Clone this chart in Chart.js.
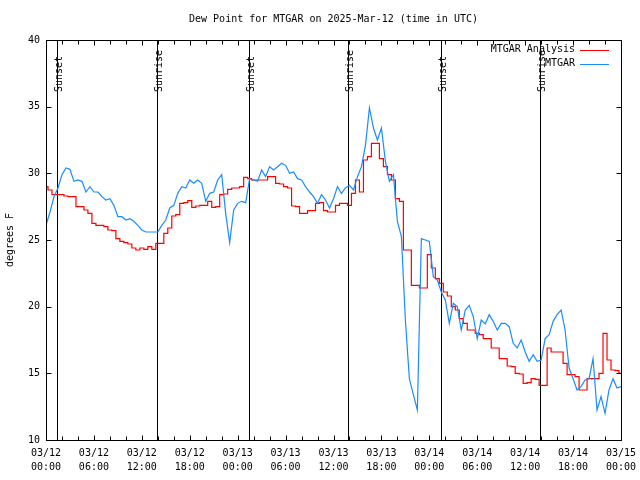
<!DOCTYPE html>
<html><head><meta charset="utf-8">
<script src="https://cdn.jsdelivr.net/npm/chart.js@4.4.1/dist/chart.umd.min.js"></script>
<style>html,body{margin:0;padding:0;background:#fff}</style>
</head><body>
<canvas id="c" width="640" height="480" style="width:640px;height:480px;display:block"></canvas>
<script>
// Hours since 03/12 00:00 UTC
const hours = [0,0.5,1,1.5,2,2.5,3,3.5,4,4.5,5,5.5,6,6.5,7,7.5,8,8.5,9,9.5,10,10.5,11,11.5,12,12.5,13,13.5,14,14.5,15,15.5,16,16.5,17,17.5,18,18.5,19,19.5,20,20.5,21,21.5,22,22.5,23,23.5,24,24.5,25,25.5,26,26.5,27,27.5,28,28.5,29,29.5,30,30.5,31,31.5,32,32.5,33,33.5,34,34.5,35,35.5,36,36.5,37,37.5,38,38.5,39,39.5,40,40.5,41,41.5,42,42.5,43,43.5,44,44.5,45,45.5,46,46.5,47,47.5,48,48.5,49,49.5,50,50.5,51,51.5,52,52.5,53,53.5,54,54.5,55,55.5,56,56.5,57,57.5,58,58.5,59,59.5,60,60.5,61,61.5,62,62.5,63,63.5,64,64.5,65,65.5,66,66.5,67,67.5,68,68.5,69,69.5,70,70.5,71,71.5,72];

const mtgar = [26.1,27.1,28.25,28.9,29.9,30.4,30.3,29.4,29.5,29.4,28.6,29.0,28.6,28.6,28.25,28.0,28.1,27.6,26.75,26.75,26.5,26.6,26.4,26.1,25.75,25.6,25.6,25.6,25.6,26.1,26.5,27.4,27.6,28.5,29.0,28.9,29.5,29.25,29.5,29.25,27.9,28.5,28.6,29.5,29.9,27.0,24.8,27.25,27.75,27.9,27.8,29.6,29.5,29.4,30.25,29.75,30.5,30.25,30.5,30.75,30.6,30.0,30.1,29.6,29.5,29.0,28.6,28.25,27.75,28.4,28.0,27.4,28.1,29.0,28.5,28.9,29.1,28.75,29.75,30.5,32.1,34.9,33.4,32.5,33.4,30.9,29.4,29.9,26.4,25.25,19.0,14.6,13.4,12.25,25.1,25.0,24.9,22.25,22.0,21.1,20.5,18.75,20.25,20.0,18.25,19.75,20.1,19.25,17.6,19.0,18.7,19.4,18.9,18.25,18.75,18.75,18.5,17.25,16.9,17.5,16.6,15.9,16.4,15.9,16.0,17.6,17.9,18.9,19.4,19.75,18.25,15.4,14.6,13.75,14.0,14.5,14.6,16.1,12.25,13.25,12.0,13.75,14.6,13.9,14.0];

const analysis = [29.0,28.75,28.4,28.4,28.4,28.3,28.25,28.25,27.5,27.5,27.25,27.0,26.25,26.1,26.1,26.0,25.75,25.7,25.1,24.9,24.8,24.7,24.4,24.25,24.4,24.3,24.5,24.3,24.75,24.75,25.5,25.9,26.8,26.9,27.75,27.8,27.95,27.45,27.55,27.6,27.6,27.9,27.45,27.5,28.4,28.45,28.8,28.9,28.9,29.0,29.7,29.6,29.5,29.5,29.5,29.5,29.75,29.75,29.25,29.2,29.0,28.9,27.55,27.5,27.0,27.0,27.2,27.2,27.75,27.8,27.2,27.1,27.1,27.6,27.75,27.75,27.6,28.5,29.5,28.6,31.0,31.25,32.25,32.25,31.1,30.5,29.9,29.5,28.1,27.9,24.25,24.25,21.6,21.6,21.4,21.4,23.9,22.9,22.1,21.75,21.1,20.8,20.0,19.75,19.1,18.75,18.25,18.25,18.0,17.9,17.6,17.6,16.9,16.9,16.1,16.1,15.55,15.5,15.0,14.95,14.25,14.3,14.6,14.55,14.1,14.1,16.9,16.6,16.6,16.6,15.75,14.9,14.9,14.75,13.75,13.75,14.6,14.6,14.6,15.0,18.0,16.0,15.25,15.2,15.0];

const xTickHours = [0,6,12,18,24,30,36,42,48,54,60,66,72];
const xTickDates = ['03/12','03/12','03/12','03/12','03/13','03/13','03/13','03/13','03/14','03/14','03/14','03/14','03/15'];
const xTickTimes = ['00:00','06:00','12:00','18:00','00:00','06:00','12:00','18:00','00:00','06:00','12:00','18:00','00:00'];
const yTicks = [10,15,20,25,30,35,40];

const sunHours = [1.41,13.94,25.42,37.86,49.47,61.87];
const sunLabels = ['Sunset','Sunrise','Sunset','Sunrise','Sunset','Sunrise'];

const FONT = "'DejaVu Sans Mono', 'Liberation Mono', monospace";

const overlay = {
  id: 'overlay',
  beforeDatasetsDraw(chart) {
    const {ctx, chartArea: a, scales: {x}} = chart;
    ctx.save();
    ctx.strokeStyle = '#000'; ctx.lineWidth = 1;
    ctx.fillStyle = '#000';
    ctx.font = '10px ' + FONT;
    sunHours.forEach((h, i) => {
      const px = Math.round(x.getPixelForValue(h)) + 0.5;
      ctx.beginPath(); ctx.moveTo(px, a.top); ctx.lineTo(px, a.bottom); ctx.stroke();
      ctx.save();
      ctx.translate(px + 1.5, 92);
      ctx.rotate(-Math.PI / 2);
      ctx.textAlign = 'left'; ctx.textBaseline = 'middle';
      ctx.fillText(sunLabels[i], 0, 0);
      ctx.restore();
    });
    ctx.restore();
  },
  afterDraw(chart) {
    const {ctx, chartArea: a, scales: {x, y}} = chart;
    ctx.save();
    ctx.strokeStyle = '#000'; ctx.lineWidth = 1;
    const L = Math.round(a.left) + 0.5, R = Math.round(a.right) + 0.5;
    const T = Math.round(a.top) + 0.5, B = Math.round(a.bottom) + 0.5;
    ctx.strokeRect(L, T, R - L, B - T);
    ctx.beginPath();
    for (let h = 2; h < 72; h += 2) {
      const px = Math.round(x.getPixelForValue(h)) + 0.5;
      const len = (h % 6 === 0) ? 5 : 4;
      ctx.moveTo(px, B); ctx.lineTo(px, B - len);
      ctx.moveTo(px, T); ctx.lineTo(px, T + len);
    }
    yTicks.forEach(v => {
      const py = Math.round(y.getPixelForValue(v)) + 0.5;
      ctx.moveTo(L, py); ctx.lineTo(L + 5, py);
      ctx.moveTo(R, py); ctx.lineTo(R - 5, py);
    });
    ctx.stroke();
    ctx.fillStyle = '#000';
    ctx.font = '10px ' + FONT;
    ctx.textAlign = 'center'; ctx.textBaseline = 'middle';
    ctx.fillText('Dew Point for MTGAR on 2025-Mar-12 (time in UTC)', (a.left + a.right) / 2, 19);
    const items = [['MTGAR Analysis', chart.data.datasets[0].borderColor, 49.5], ['MTGAR', chart.data.datasets[1].borderColor, 63.5]];
    ctx.textAlign = 'right';
    items.forEach(([t, c, yy]) => {
      ctx.fillStyle = '#000';
      ctx.fillText(t, 575, yy);
      ctx.strokeStyle = c; ctx.lineWidth = 1;
      ctx.beginPath(); ctx.moveTo(580, Math.round(yy) + 0.5); ctx.lineTo(609, Math.round(yy) + 0.5); ctx.stroke();
    });
    ctx.restore();
  }
};

new Chart(document.getElementById('c'), {
  type: 'line',
  data: {
    datasets: [
      { label: 'MTGAR Analysis', data: hours.map((h, i) => ({x: h, y: analysis[i]})),
        borderColor: '#ff0000', borderWidth: 1.2, pointRadius: 0, stepped: 'middle', order: 2 },
      { label: 'MTGAR', data: hours.map((h, i) => ({x: h, y: mtgar[i]})),
        borderColor: '#1a8cff', borderWidth: 1.2, pointRadius: 0, tension: 0, order: 1 }
    ]
  },
  options: {
    responsive: false, animation: false, devicePixelRatio: 1,
    layout: { padding: { top: 40, right: 19, left: 0, bottom: 0 } },
    plugins: { legend: { display: false }, title: { display: false }, tooltip: { enabled: false } },
    scales: {
      x: {
        type: 'linear', min: 0, max: 72,
        grid: { display: false, drawTicks: false }, border: { display: false },
        afterBuildTicks: (s) => { s.ticks = xTickHours.map(v => ({value: v})); },
        ticks: { autoSkip: false, maxRotation: 0, minRotation: 0, padding: 6, color: '#000',
          font: { family: FONT, size: 10, lineHeight: 1.4 },
          callback: (v) => { const i = xTickHours.indexOf(v); return i < 0 ? '' : [xTickDates[i], xTickTimes[i]]; } },
        afterFit: (s) => { s.height = 40; s.paddingLeft = 0; s.paddingRight = 0; }
      },
      y: {
        min: 10, max: 40,
        grid: { display: false, drawTicks: false }, border: { display: false },
        afterBuildTicks: (s) => { s.ticks = yTicks.map(v => ({value: v})); },
        ticks: { padding: 6, color: '#000', font: { family: FONT, size: 10 } },
        title: { display: true, text: 'degrees F', color: '#000', font: { family: FONT, size: 10 }, padding: 4 },
        afterFit: (s) => { s.width = 46; s.paddingTop = 0; s.paddingBottom = 0; }
      }
    }
  },
  plugins: [overlay]
});
</script>
</body></html>
